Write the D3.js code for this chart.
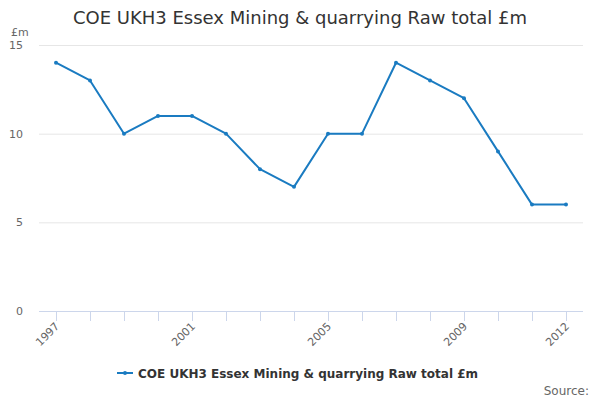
<!DOCTYPE html>
<html>
<head>
<meta charset="utf-8">
<script src="https://cdn.jsdelivr.net/npm/d3@7"></script>
<style>
  body { margin: 0; background: #fff; }
  svg { font-family: "DejaVu Sans", sans-serif; }
</style>
</head>
<body>
<div class="graphic"></div>
<script>
const years = [1997, 1998, 1999, 2000, 2001, 2002, 2003, 2004, 2005, 2006, 2007, 2008, 2009, 2010, 2011, 2012];
const values = [14, 13, 10, 11, 11, 10, 8, 7, 10, 10, 14, 13, 12, 9, 6, 6];
const yTicks = [0, 5, 10, 15];
const xLabels = [1997, 2001, 2005, 2009, 2012];
const seriesName = 'COE UKH3 Essex Mining & quarrying Raw total £m';

const width = 600, height = 400;
const colour = '#1a7bc1';

const svg = d3
  .select('.graphic')
  .append('svg')
  .attr('width', width)
  .attr('height', height);

const x = d3.scalePoint()
  .domain(years)
  .range([39, 583])
  .padding(0.5);

const y = d3.scaleLinear()
  .domain([0, 15])
  .range([311, 45]);

// title
svg.append('text')
  .attr('x', 300)
  .attr('y', 24)
  .attr('text-anchor', 'middle')
  .attr('font-size', 18)
  .attr('fill', '#333')
  .text(seriesName);

// unit label
svg.append('text')
  .attr('x', 11)
  .attr('y', 36)
  .attr('font-size', 11)
  .attr('fill', '#666')
  .text('£m');

// gridlines
svg.selectAll('line.grid')
  .data(yTicks.filter(d => d > 0))
  .enter()
  .append('line')
  .attr('class', 'grid')
  .attr('x1', 39)
  .attr('x2', 583)
  .attr('y1', d => y(d) + 0.5)
  .attr('y2', d => y(d) + 0.5)
  .attr('stroke', '#e6e6e6');

// y labels
svg.selectAll('text.y-label')
  .data(yTicks)
  .enter()
  .append('text')
  .attr('class', 'y-label')
  .attr('x', 23)
  .attr('y', d => y(d) + 4)
  .attr('text-anchor', 'end')
  .attr('font-size', 11)
  .attr('fill', '#666')
  .text(d => d);

// x axis line and ticks
svg.append('line')
  .attr('x1', 39)
  .attr('x2', 583)
  .attr('y1', y(0) + 0.5)
  .attr('y2', y(0) + 0.5)
  .attr('stroke', '#ccd6eb');

svg.selectAll('line.x-tick')
  .data(years)
  .enter()
  .append('line')
  .attr('class', 'x-tick')
  .attr('x1', d => Math.round(x(d)) + 0.5)
  .attr('x2', d => Math.round(x(d)) + 0.5)
  .attr('y1', y(0))
  .attr('y2', y(0) + 10)
  .attr('stroke', '#ccd6eb');

svg.selectAll('text.x-label')
  .data(xLabels)
  .enter()
  .append('text')
  .attr('class', 'x-label')
  .attr('text-anchor', 'end')
  .attr('font-size', 11)
  .attr('fill', '#666')
  .attr('transform', d => `translate(${x(d) + 4},${y(0) + 16}) rotate(-45)`)
  .text(d => d);

// line
const line = d3.line()
  .x((d, i) => x(years[i]))
  .y(d => y(d));

svg.append('path')
  .datum(values)
  .attr('d', line)
  .attr('fill', 'none')
  .attr('stroke', colour)
  .attr('stroke-width', 2)
  .attr('stroke-linejoin', 'round');

svg.selectAll('circle.pt')
  .data(values)
  .enter()
  .append('circle')
  .attr('class', 'pt')
  .attr('cx', (d, i) => x(years[i]))
  .attr('cy', d => y(d))
  .attr('r', 2)
  .attr('fill', colour);

// legend
const legend = svg.append('g').attr('transform', 'translate(117,373)');
legend.append('line')
  .attr('x1', 0).attr('x2', 16)
  .attr('y1', 0).attr('y2', 0)
  .attr('stroke', colour)
  .attr('stroke-width', 2);
legend.append('circle')
  .attr('cx', 8).attr('cy', 0).attr('r', 2)
  .attr('fill', colour);
legend.append('text')
  .attr('x', 21)
  .attr('y', 4.5)
  .attr('font-size', 12)
  .attr('font-weight', 'bold')
  .attr('fill', '#333')
  .text(seriesName);

// source
svg.append('text')
  .attr('x', 589)
  .attr('y', 395)
  .attr('text-anchor', 'end')
  .attr('font-size', 12)
  .attr('fill', '#666')
  .text('Source:');
</script>
</body>
</html>
